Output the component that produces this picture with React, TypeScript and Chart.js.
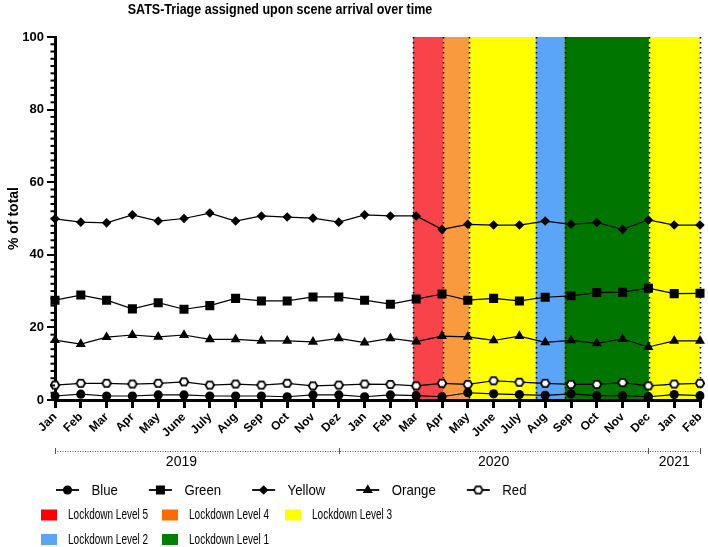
import React, { useEffect, useRef } from 'react';
import { Chart, registerables } from 'chart.js';

Chart.register(...registerables);

// ---------- data ----------
const months = ['Jan', 'Feb', 'Mar', 'Apr', 'May', 'June', 'July', 'Aug', 'Sep', 'Oct', 'Nov', 'Dez',
  'Jan', 'Feb', 'Mar', 'Apr', 'May', 'June', 'July', 'Aug', 'Sep', 'Oct', 'Nov', 'Dec', 'Jan', 'Feb'];

const blueValues = [1.1, 1.6, 1.1, 1.1, 1.4, 1.4, 1.1, 1.1, 1.1, 0.9, 1.4, 1.4, 0.9,
  1.4, 1.2, 0.9, 2.0, 1.7, 1.5, 1.3, 1.7, 1.2, 1.2, 0.9, 1.5, 1.2];
const greenValues = [27.5, 28.9, 27.5, 25.1, 26.8, 25.0, 26.0, 28.0, 27.3, 27.3, 28.4, 28.4, 27.5,
  26.4, 27.8, 29.2, 27.5, 28.0, 27.3, 28.3, 28.7, 29.6, 29.7, 30.8, 29.3, 29.4];
const yellowValues = [49.9, 49.0, 48.8, 51.0, 49.3, 50.0, 51.5, 49.3, 50.7, 50.4, 50.1, 49.0, 51.0,
  50.7, 50.7, 47.0, 48.4, 48.2, 48.2, 49.3, 48.4, 48.9, 47.0, 49.6, 48.2, 48.2];
const orangeValues = [16.5, 15.4, 17.3, 17.9, 17.4, 17.9, 16.7, 16.7, 16.3, 16.3, 16.0, 17.0, 15.8,
  17.0, 16.1, 17.6, 17.4, 16.4, 17.6, 15.9, 16.4, 15.6, 16.8, 14.6, 16.3, 16.3];
const redValues = [4.1, 4.6, 4.6, 4.4, 4.6, 5.0, 4.1, 4.4, 4.1, 4.6, 3.9, 4.1, 4.4,
  4.3, 3.9, 4.6, 4.3, 5.3, 4.9, 4.6, 4.3, 4.3, 4.8, 3.9, 4.4, 4.6];

const seriesNames = ['Blue', 'Green', 'Yellow', 'Orange', 'Red'];

const yTicks = [0, 20, 40, 60, 80, 100];

// lockdown periods (positions in month-category units)
const lockdownLevels = [5, 4, 3, 2, 1, 3];
const lockdownStarts = [13.88, 15.04, 16.05, 18.63, 19.75, 23.02];
const lockdownEnds = [15.04, 16.05, 18.63, 19.75, 23.02, 25];
const lockdownLegendLevels = [5, 4, 3, 2, 1];

const yearLabels = ['2019', '2020', '2021'];
const yearLabelPositions = [4.9, 17.0, 24.0];
const yearBreaks = [0, 11, 23, 25];

const titleText = 'SATS-Triage assigned upon scene arrival over time';

// ---------- styles ----------
const FONT = '"Liberation Sans", Arial, Helvetica, sans-serif';
const bandColors: Record<number, string> = { 5: '#f8434a', 4: '#f99a3e', 3: '#ffff00', 2: '#5aa5f7', 1: '#007600' };
const legendColors: Record<number, string> = { 5: '#ff0000', 4: '#ff6a00', 3: '#ffff00', 2: '#5aa5f7', 1: '#008000' };
const pointStyles = ['circle', 'rect', 'rectRot', 'triangle', 'hexagon'];
const pointRadii = [4.6, 6.4, 4.8, 5.8, 0];

function makeHexagon(): HTMLCanvasElement {
  const c = document.createElement('canvas');
  c.width = 12;
  c.height = 11;
  const ctx = c.getContext('2d')!;
  const cx = 6, cy = 5.5, r = 4.3;
  ctx.beginPath();
  for (let i = 0; i < 6; i++) {
    const a = (Math.PI / 3) * i;
    const px = cx + r * Math.cos(a);
    const py = cy + r * Math.sin(a);
    if (i === 0) ctx.moveTo(px, py); else ctx.lineTo(px, py);
  }
  ctx.closePath();
  ctx.fillStyle = '#fff';
  ctx.fill();
  ctx.lineWidth = 1.8;
  ctx.strokeStyle = '#000';
  ctx.stroke();
  return c;
}

function drawMarker(ctx: CanvasRenderingContext2D, style: string, x: number, y: number, hex: HTMLCanvasElement) {
  ctx.save();
  ctx.fillStyle = '#000';
  ctx.beginPath();
  if (style === 'circle') {
    ctx.arc(x, y, 4.6, 0, Math.PI * 2);
    ctx.fill();
  } else if (style === 'rect') {
    ctx.rect(x - 4.5, y - 4.5, 9, 9);
    ctx.fill();
  } else if (style === 'rectRot') {
    const r = 4.8;
    ctx.moveTo(x, y - r); ctx.lineTo(x + r, y); ctx.lineTo(x, y + r); ctx.lineTo(x - r, y); ctx.closePath();
    ctx.fill();
  } else if (style === 'triangle') {
    const r = 5.8;
    ctx.moveTo(x, y - r);
    ctx.lineTo(x + 0.866 * r, y + 0.5 * r);
    ctx.lineTo(x - 0.866 * r, y + 0.5 * r);
    ctx.closePath();
    ctx.fill();
  } else {
    ctx.drawImage(hex, x - hex.width / 2, y - hex.height / 2);
  }
  ctx.restore();
}

function squeezedText(ctx: CanvasRenderingContext2D, text: string, x: number, y: number, sq: number, align: 'left' | 'center') {
  ctx.save();
  ctx.translate(x, y);
  ctx.scale(sq, 1);
  ctx.textAlign = align;
  ctx.fillText(text, 0, 0);
  ctx.restore();
  return ctx.measureText(text).width * sq;
}

export default function App() {
  const ref = useRef<HTMLCanvasElement>(null);

  useEffect(() => {
    document.body.style.margin = '0';
    const canvas = ref.current;
    if (!canvas) return;
    const hex = makeHexagon();

    const bandsPlugin = {
      id: 'bands',
      beforeDraw(chart: any) {
        const { ctx, chartArea } = chart;
        const xs = chart.scales.x;
        ctx.save();
        for (let i = 0; i < lockdownLevels.length; i++) {
          const x0 = xs.getPixelForValue(lockdownStarts[i]);
          const x1 = xs.getPixelForValue(lockdownEnds[i]);
          ctx.fillStyle = bandColors[lockdownLevels[i]];
          ctx.fillRect(x0, chartArea.top, x1 - x0, chartArea.bottom - chartArea.top);
        }
        const edges = Array.from(new Set([...lockdownStarts, ...lockdownEnds]));
        ctx.strokeStyle = '#000';
        ctx.lineWidth = 1.6;
        ctx.setLineDash([1.6, 3.4]);
        edges.forEach((e) => {
          const x = Math.round(xs.getPixelForValue(e)) + 0.5;
          ctx.beginPath();
          ctx.moveTo(x, chartArea.top);
          ctx.lineTo(x, chartArea.bottom);
          ctx.stroke();
        });
        ctx.restore();
      },
    };

    const decorPlugin = {
      id: 'decor',
      afterDraw(chart: any) {
        const { ctx, chartArea } = chart;
        const xs = chart.scales.x;
        const ys = chart.scales.y;
        ctx.save();
        // minor y ticks
        ctx.strokeStyle = '#000';
        ctx.lineWidth = 2;
        for (let v = 0; v <= 100; v += 2) {
          if (v % 20 === 0) continue;
          const y = ys.getPixelForValue(v);
          ctx.beginPath();
          ctx.moveTo(chartArea.left - 4.5, y);
          ctx.lineTo(chartArea.left, y);
          ctx.stroke();
        }

        // title
        ctx.fillStyle = '#000';
        ctx.font = `bold 15px ${FONT}`;
        ctx.textBaseline = 'alphabetic';
        squeezedText(ctx, titleText, 280, 14, 0.835, 'center');

        // year brackets
        const by = 451;
        ctx.strokeStyle = '#555';
        ctx.lineWidth = 1;
        ctx.setLineDash([1, 1.5]);
        ctx.beginPath();
        ctx.moveTo(xs.getPixelForValue(yearBreaks[0]), by + 0.5);
        ctx.lineTo(xs.getPixelForValue(yearBreaks[yearBreaks.length - 1]), by + 0.5);
        ctx.stroke();
        ctx.setLineDash([]);
        yearBreaks.forEach((b) => {
          const x = Math.round(xs.getPixelForValue(b)) + 0.5;
          ctx.beginPath();
          ctx.moveTo(x, by - 3);
          ctx.lineTo(x, by + 3);
          ctx.stroke();
        });
        ctx.fillStyle = '#000';
        ctx.font = `14px ${FONT}`;
        ctx.textBaseline = 'middle';
        ctx.textAlign = 'center';
        yearLabels.forEach((t, i) => {
          ctx.fillText(t, xs.getPixelForValue(yearLabelPositions[i]), 462);
        });

        // series legend
        ctx.font = `15px ${FONT}`;
        ctx.textBaseline = 'middle';
        let lx = 56;
        const ly = 490;
        seriesNames.forEach((name, i) => {
          ctx.strokeStyle = '#000';
          ctx.lineWidth = 1.8;
          ctx.beginPath();
          ctx.moveTo(lx, ly);
          ctx.lineTo(lx + 23, ly);
          ctx.stroke();
          drawMarker(ctx, pointStyles[i], lx + 11.5, ly, hex);
          ctx.fillStyle = '#000';
          const w = squeezedText(ctx, name, lx + 35.5, ly + 0.5, 0.88, 'left');
          lx += 35.5 + w + 31;
        });

        // lockdown legend
        const colX = [41, 162, 285];
        const rowY = [515, 539.5];
        ctx.font = `14px ${FONT}`;
        lockdownLegendLevels.forEach((lvl, i) => {
          const cx = colX[i % 3];
          const cy = rowY[Math.floor(i / 3)];
          ctx.fillStyle = legendColors[lvl];
          ctx.fillRect(cx, cy - 5.5, 16, 11);
          ctx.fillStyle = '#000';
          squeezedText(ctx, `Lockdown Level ${lvl}`, cx + 27, cy + 0.5, 0.715, 'left');
        });
        ctx.restore();
      },
    };

    const values = [blueValues, greenValues, yellowValues, orangeValues, redValues];

    const chart = new Chart(canvas, {
      type: 'line',
      data: {
        labels: months,
        datasets: values.map((d, i) => ({
          label: seriesNames[i],
          data: d,
          borderColor: '#000',
          borderWidth: 1.2,
          backgroundColor: '#000',
          pointBackgroundColor: '#000',
          pointBorderColor: '#000',
          pointBorderWidth: 0,
          pointStyle: pointStyles[i] === 'hexagon' ? hex : pointStyles[i],
          pointRadius: pointStyles[i] === 'hexagon' ? 5 : pointRadii[i],
          tension: 0,
          fill: false,
        })) as any,
      },
      options: {
        animation: false,
        responsive: false,
        devicePixelRatio: 1,
        layout: { padding: { top: 37, right: 8, left: 0, bottom: 0 } },
        plugins: {
          legend: { display: false },
          title: { display: false },
          tooltip: { enabled: false },
        },
        scales: {
          x: {
            type: 'category',
            offset: false,
            grid: { display: true, drawOnChartArea: false, drawTicks: true, tickLength: 8, lineWidth: 3, color: '#000' },
            border: { display: true, width: 3, color: '#000' },
            ticks: {
              autoSkip: false,
              maxRotation: 45,
              minRotation: 45,
              color: '#000',
              padding: 2,
              font: { family: FONT, size: 12, weight: 'bold' },
            },
            afterFit: (s: any) => {
              s.height = 147;
              s.paddingLeft = 0;
              s.paddingRight = 0;
            },
          },
          y: {
            min: 0,
            max: 100,
            afterBuildTicks: (s: any) => {
              s.ticks = yTicks.map((v) => ({ value: v }));
            },
            ticks: { color: '#000', padding: 3, font: { family: FONT, size: 13, weight: 'bold' } },
            grid: { display: true, drawOnChartArea: false, drawTicks: true, tickLength: 8, lineWidth: 2, color: '#000' },
            border: { display: true, width: 3, color: '#000' },
            title: {
              display: true,
              text: '% of total',
              color: '#000',
              padding: { top: 6, bottom: 0 },
              font: { family: FONT, size: 14, weight: 'bold' },
            },
            afterFit: (s: any) => {
              s.width = 55;
            },
          },
        },
      } as any,
      plugins: [bandsPlugin, decorPlugin],
    });

    return () => chart.destroy();
  }, []);

  return (
    <div style={{ width: 708, height: 547 }}>
      <canvas ref={ref} width={708} height={547} style={{ display: 'block' }} />
    </div>
  );
}
